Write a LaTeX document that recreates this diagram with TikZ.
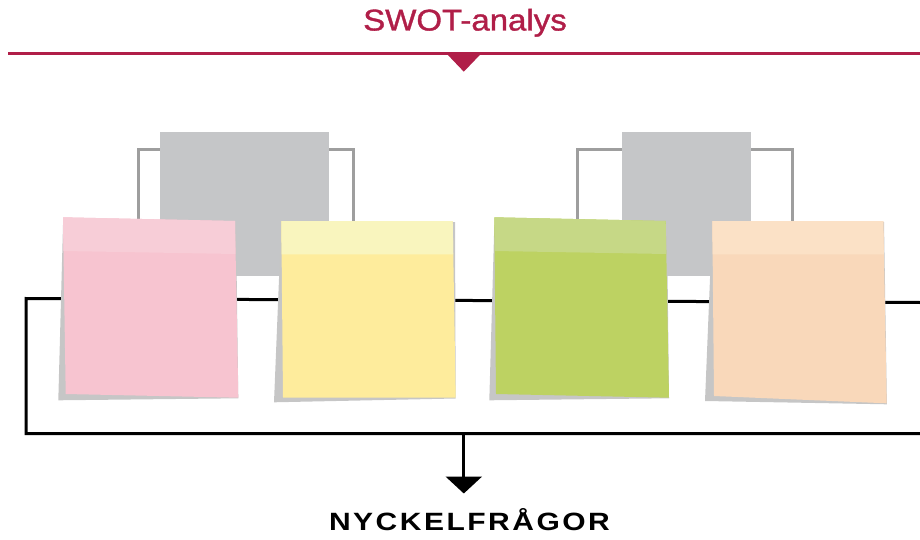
\documentclass[tikz,border=0pt]{standalone}
\usepackage{fontspec}
\usepackage{xcolor}
\usepackage{tikz}
\usetikzlibrary{positioning,arrows.meta,calc}
\newfontfamily\rubrikfont[FakeStretch=1.1,FakeBold=1.2]{Liberation Sans}
\newfontfamily\nyckelfont[FakeStretch=1.2,LetterSpace=10]{Liberation Sans}
\definecolor{swotred}{HTML}{B01E48}
\definecolor{kortgra}{HTML}{C5C6C8}
\definecolor{ramgra}{HTML}{9E9E9E}
\definecolor{skugga}{HTML}{C6C6C6}
\definecolor{rosa}{HTML}{F7C4D0}
\definecolor{rosaband}{HTML}{F7CDD7}
\definecolor{gul}{HTML}{FEEC9C}
\definecolor{gulband}{HTML}{F9F5BE}
\definecolor{gron}{HTML}{BDD262}
\definecolor{gronband}{HTML}{C6D886}
\definecolor{persika}{HTML}{F9D8BA}
\definecolor{persikaband}{HTML}{FBE1C6}
\tikzset{
  ram/.style={draw=black,line width=3pt},
  hake/.style={draw=ramgra,line width=3pt},
  lapp/.style={fill=skugga}
}
\begin{document}
\begin{tikzpicture}[x=1pt,y=-1pt]
    \useasboundingbox (0,0) rectangle (920,540);

    % rubrik
    \node[inner sep=0,anchor=base,text=swotred,font=\rubrikfont\fontsize{30}{35}\selectfont] (rubrik) at (465,30.5) {SWOT-analys};
    \coordinate (linjeV) at (8,53.3);
    \coordinate (linjeH) at (920,53.3);
    \draw[swotred,line width=3pt] (linjeV) -- (linjeH);
    \fill[swotred] (446,53) -- (481.7,53) -- (463.8,71.7) -- cycle;

    % grå hakar och kort
    \draw[hake] (138,240) -- (138,150) -- (353,150) -- (353,240);
    \draw[hake] (577,240) -- (577,150) -- (792,150) -- (792,240);
    \fill[kortgra] (160,132) rectangle (329,276);
    \fill[kortgra] (622,132) rectangle (751,276);

    % svart ram
    \coordinate (ramA) at (26,298.5);
    \coordinate (ramB) at (920,302.5);
    \coordinate (ramC) at (26,433.5);
    \coordinate (ramD) at (920,433.5);
    \draw[ram] (ramB) -- (ramA) -- (ramC) -- (ramD);

    % lappar
    \fill[lapp] (63,225) -- (236,225) -- (238.3,398.3) -- (58.3,400.3) -- cycle;
    \fill[rosa] (63,217.3) -- (235,221) -- (238.3,397.7) -- (65.7,394) -- cycle;
    \fill[rosaband] (63,217.3) -- (235,221) -- (235.4,254) -- (63.4,251) -- cycle;

    \fill[lapp] (281.3,222) -- (455,222) -- (455.7,398.5) -- (274,402.3) -- cycle;
    \fill[gul] (281.3,221) -- (452.7,221) -- (455.7,397.7) -- (283,397.7) -- cycle;
    \fill[gulband] (281.3,221) -- (452.7,221) -- (453.2,254.3) -- (281.6,254.3) -- cycle;

    \fill[lapp] (494.3,225) -- (667,225) -- (669,398.3) -- (489.3,400.3) -- cycle;
    \fill[gron] (494.3,217.3) -- (665.7,221) -- (669,397.7) -- (496,394) -- cycle;
    \fill[gronband] (494.3,217.3) -- (665.7,221) -- (666.1,254) -- (494.7,251) -- cycle;

    \fill[lapp] (712.3,222) -- (884,222) -- (886.9,404.3) -- (705,401) -- cycle;
    \fill[persika] (712.3,221) -- (883.3,221) -- (886.7,403.3) -- (714,396) -- cycle;
    \fill[persikaband] (712.3,221) -- (883.3,221) -- (883.8,254.3) -- (712.6,254.3) -- cycle;

    % pil ned
    \node[inner sep=0,anchor=base,font=\nyckelfont\bfseries\fontsize{25}{30}\selectfont] (nyckel) at (469.5,530.5) {NYCKELFRÅGOR};
    \coordinate (pil) at (463.8,433.5);
    \coordinate (pilspets) at (463.8,493.5);
    \draw[line width=3pt,-{Triangle[length=17pt,width=36pt]}] (pil) -- (pilspets);
\end{tikzpicture}
\end{document}
